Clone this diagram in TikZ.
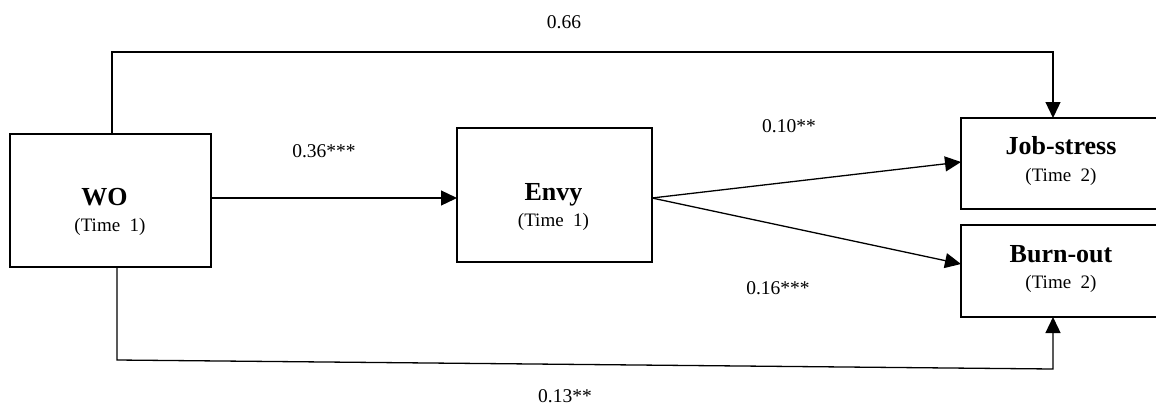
\documentclass[tikz,border=0pt]{standalone}
\usepackage{fontspec}
\setmainfont{Liberation Serif}
\usetikzlibrary{arrows.meta}
\begin{document}
\begin{tikzpicture}[x=1pt,y=-1pt,
  boxn/.style={draw, line width=1.3pt, inner sep=0pt, outer sep=0pt},
  ttl/.style={font=\fontsize{26}{26}\selectfont\bfseries, inner sep=0pt, anchor=base},
  sub/.style={font=\fontsize{19}{19}\selectfont, inner sep=0pt, anchor=base},
  lbl/.style={font=\fontsize{19.5}{20}\selectfont, inner sep=0pt, anchor=base},
  conn/.style={line width=1.3pt},
  arr/.style={conn, -{Triangle[length=16pt,width=15pt]}}]
\useasboundingbox (0,0) rectangle (1156,405);
\clip (0,0) rectangle (1156,405);
% boxes
\node[boxn, minimum width=201pt, minimum height=133pt] (WO) at (110.5,200.5) {};
\node[boxn, minimum width=195pt, minimum height=134pt] (Envy) at (554.5,195) {};
\node[boxn, minimum width=220pt, minimum height=91pt] (JS) at (1071,163.5) {};
\node[boxn, minimum width=220pt, minimum height=92pt] (BO) at (1071,271) {};
% box texts
\node[ttl] (woT) at (104.5,205) {WO};
\node[sub] (woS) at (110,231) {(Time\ \ 1)};
\node[ttl] (envT) at (553.5,200) {Envy};
\node[sub] (envS) at (553.5,226) {(Time\ \ 1)};
\node[ttl] (jsT) at (1061,154) {Job-stress};
\node[sub] (jsS) at (1061,181) {(Time\ \ 2)};
\node[ttl] (boT) at (1061,262) {Burn-out};
\node[sub] (boS) at (1061,288) {(Time\ \ 2)};
% helper coordinates
\coordinate (t1) at (112,52);
\coordinate (t2) at (1053,52);
\coordinate (b1) at (117,360);
\coordinate (b2) at (1053,369);
\coordinate (m1) at (0,198);
\coordinate (e1) at (0,162);
\coordinate (e2) at (0,264);
% connectors
\draw[arr] (WO.north -| t1) -- (t1) -- (t2) -- (JS.north -| t2);
\draw[arr] (WO.south -| b1) -- (b1) -- (b2) -- (BO.south -| b2);
\draw[arr] (WO.east |- m1) -- (Envy.west |- m1);
\draw[arr] (Envy.east |- m1) -- (JS.west |- e1);
\draw[arr] (Envy.east |- m1) -- (BO.west |- e2);
% labels
\node[lbl] (l066) at (564,28) {0.66};
\node[lbl] (l036) at (324,157) {0.36***};
\node[lbl] (l010) at (789,132) {0.10**};
\node[lbl] (l016) at (778,294) {0.16***};
\node[lbl] (l013) at (565,402) {0.13**};
\end{tikzpicture}
\end{document}
